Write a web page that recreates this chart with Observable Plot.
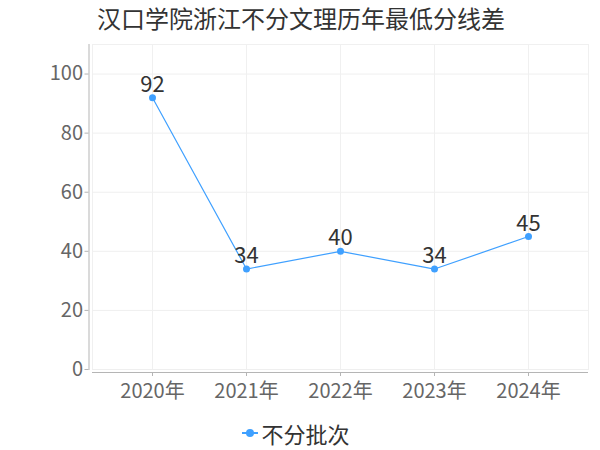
<!DOCTYPE html>
<html>
<head>
<meta charset="utf-8">
<script src="https://cdn.jsdelivr.net/npm/d3@7"></script>
<script src="https://cdn.jsdelivr.net/npm/@observablehq/plot@0.6"></script>
<style>
  html, body { margin: 0; padding: 0; background: #fff; }
  body { width: 600px; height: 450px; overflow: hidden; font-family: "Noto Sans CJK SC", "Noto Sans", sans-serif; }
  #title { height: 40px; box-sizing: border-box; padding-left: 97px; padding-top: 1px; font-size: 24px; color: #333; line-height: 34px; white-space: nowrap; }
  #legend { height: 35px; display: flex; justify-content: center; align-items: center; font-size: 22px; color: #333; }
  #legend .sym { position: relative; width: 16px; height: 2px; background: #3fa0ff; margin-right: 3px; margin-left: -8px; }
  #legend .sym::after { content: ""; position: absolute; left: 4px; top: -3px; width: 8px; height: 8px; border-radius: 50%; background: #3fa0ff; }
</style>
</head>
<body>
<div id="title">汉口学院浙江不分文理历年最低分线差</div>
<div id="chart"></div>
<div id="legend"><span class="sym"></span><span>不分批次</span></div>
<script>
const years = ["2020年", "2021年", "2022年", "2023年", "2024年"];
const values = [92, 34, 40, 34, 45];
const seriesName = "不分批次";
const yTicks = [0, 20, 40, 60, 80, 100];

const data = years.map((y, i) => ({year: y, value: values[i], series: seriesName}));
const blue = "#3fa0ff";
const font = '"Noto Sans CJK SC", "Noto Sans", sans-serif';

const chart = Plot.plot({
  width: 600,
  height: 375,
  marginLeft: 92,
  marginRight: 12,
  marginTop: 4,
  marginBottom: 46,
  style: {fontFamily: font, background: "#fff", overflow: "visible"},
  x: {type: "point", domain: years, padding: 0.638},
  y: {domain: [0, 110]},
  marks: [
    Plot.frame({stroke: "#f0f0f0"}),
    Plot.gridY(yTicks, {stroke: "#efefef", strokeOpacity: 1}),
    Plot.gridX(years, {stroke: "#f0f0f0", strokeOpacity: 1}),
    Plot.frame({anchor: "left", stroke: "#b5b5b5", dx: -3.5}),
    Plot.ruleY([0], {stroke: "#b5b5b5", dy: 3}),
    Plot.axisY(yTicks, {tickSize: 4, tickPadding: 2, dx: -3.5, fontSize: 20, fill: "#666", stroke: "#b5b5b5", label: null}),
    Plot.axisX(years, {tickSize: 4, tickPadding: 7, dy: 3, fontSize: 20, fill: "#666", stroke: "#b5b5b5", label: null}),
    Plot.line(data, {x: "year", y: "value", stroke: blue, strokeWidth: 1.2}),
    Plot.dot(data, {x: "year", y: "value", r: 3.5, fill: blue, stroke: "none"}),
    Plot.text(data, {x: "year", y: "value", text: d => String(d.value), dy: -13, fontSize: 22, fill: "#333"})
  ]
});
document.getElementById("chart").appendChild(chart);
</script>
</body>
</html>
